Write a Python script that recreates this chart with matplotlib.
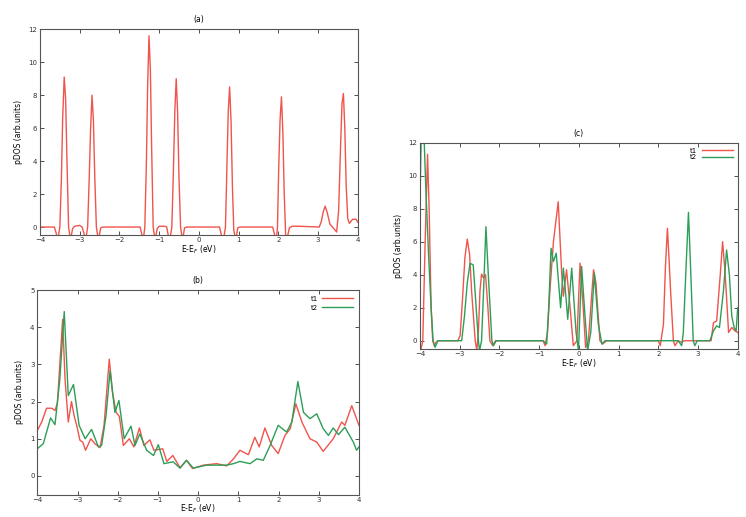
import matplotlib
matplotlib.use("Agg")
import matplotlib.pyplot as plt

# panel (a): single pDOS curve
e_a = [-4.0, -3.64, -3.60, -3.55, -3.50, -3.46, -3.43, -3.39, -3.355, -3.32, -3.28, -3.23, -3.18,
       -3.13, -3.0, -2.94, -2.89, -2.85, -2.80, -2.76, -2.725, -2.69, -2.655, -2.62, -2.58, -2.53,
       -2.47, -2.42, -1.48, -1.44, -1.40, -1.36, -1.32, -1.29, -1.255, -1.22, -1.19, -1.15, -1.10,
       -1.05, -1.0, -0.86, -0.81, -0.77, -0.73, -0.68, -0.64, -0.605, -0.57, -0.535, -0.50, -0.46,
       -0.41, -0.36, -0.30, 0.52, 0.57, 0.62, 0.67, 0.71, 0.74, 0.775, 0.81, 0.845, 0.88, 0.93,
       0.98, 1.03, 1.86, 1.91, 1.95, 1.98, 2.01, 2.045, 2.08, 2.115, 2.15, 2.19, 2.23, 2.28, 2.35,
       2.5, 3.03, 3.08, 3.13, 3.18, 3.23, 3.30, 3.40, 3.47, 3.52, 3.57, 3.605, 3.64, 3.675, 3.71,
       3.75, 3.79, 3.87, 3.96, 4.0]
dos_a = [0.0, 0.0, -0.3, -0.8, 0.0, 3.0, 6.5, 9.1, 7.8, 4.0, 0.0, -0.8, -0.1,
         0.05, 0.1, 0.0, -0.4, -0.8, 0.0, 3.0, 6.0, 8.0, 6.5, 3.0, 0.0, -0.8,
         -0.05, 0.0, 0.0, -0.4, -0.8, 0.0, 4.0, 8.5, 11.6, 9.5, 5.0, 0.0, -0.8,
         -0.1, 0.05, 0.05, 0.0, -0.5, -0.8, 0.0, 3.5, 7.0, 9.0, 7.0, 3.0, 0.0,
         -0.8, -0.05, 0.0, 0.0, -0.5, -0.8, 0.0, 4.0, 7.0, 8.5, 6.5, 2.5, -0.2, -0.8,
         -0.05, 0.0, 0.0, -0.5, -0.8, 0.0, 3.5, 6.5, 7.9, 5.8, 2.0, -0.8, -0.6, -0.05, 0.05,
         0.05, 0.0, 0.3, 0.9, 1.27, 0.9, 0.18, -0.1, -0.3, 1.0, 5.0, 7.5, 8.1, 6.0, 2.5,
         0.5, 0.22, 0.47, 0.47, 0.3]

# panel (b): t1 / t2
e_b1 = [-4.0, -3.89, -3.77, -3.64, -3.56, -3.50, -3.44, -3.37, -3.31, -3.23, -3.15, -3.08, -3.02,
        -2.94, -2.87, -2.80, -2.67, -2.57, -2.44, -2.34, -2.21, -2.13, -2.04, -1.96, -1.86, -1.71,
        -1.60, -1.46, -1.35, -1.20, -1.10, -0.88, -0.78, -0.63, -0.45, -0.29, -0.14, 0.13, 0.46,
        0.71, 0.88, 1.04, 1.25, 1.41, 1.52, 1.66, 1.83, 1.99, 2.16, 2.29, 2.43, 2.58, 2.78, 2.95,
        3.11, 3.36, 3.57, 3.65, 3.82, 4.0]
t1_b = [1.22, 1.45, 1.82, 1.82, 1.76, 1.96, 3.0, 4.21, 2.6, 1.45, 2.0, 1.6, 1.36,
        0.96, 0.91, 0.69, 1.0, 0.87, 0.76, 1.36, 3.14, 2.25, 1.71, 1.6, 0.82, 1.0,
        0.78, 1.29, 0.82, 0.97, 0.69, 0.73, 0.39, 0.55, 0.22, 0.42, 0.2, 0.29, 0.33,
        0.27, 0.46, 0.69, 0.57, 1.04, 0.78, 1.29, 0.82, 0.6, 1.09, 1.27, 1.94, 1.45, 1.0, 0.91,
        0.66, 1.0, 1.45, 1.36, 1.89, 1.36]
e_b2 = [-4.0, -3.85, -3.67, -3.56, -3.44, -3.33, -3.23, -3.10, -2.96, -2.81, -2.65, -2.48, -2.40,
        -2.29, -2.19, -2.07, -1.97, -1.84, -1.67, -1.57, -1.45, -1.28, -1.11, -0.99, -0.85, -0.62,
        -0.45, -0.29, -0.12, 0.21, 0.71, 0.88, 1.04, 1.29, 1.46, 1.62, 1.79, 1.99, 2.20, 2.33,
        2.48, 2.62, 2.78, 2.95, 3.11, 3.24, 3.36, 3.49, 3.65, 3.86, 3.94, 4.0]
t2_b = [0.73, 0.87, 1.56, 1.38, 2.6, 4.42, 2.16, 2.46, 1.36, 1.0, 1.25, 0.78, 0.82,
        1.63, 2.83, 1.71, 2.03, 1.0, 1.34, 0.82, 1.13, 0.69, 0.55, 0.84, 0.33, 0.38,
        0.21, 0.42, 0.21, 0.29, 0.29, 0.33, 0.39, 0.33, 0.46, 0.42, 0.82, 1.36, 1.18, 1.45,
        2.54, 1.71, 1.54, 1.67, 1.27, 1.09, 1.29, 1.11, 1.31, 0.91, 0.69, 0.78]

# panel (c): t1 / t2
e_c1 = [-4.0, -3.93, -3.87, -3.81, -3.77, -3.72, -3.68, -3.64, -3.60, -3.55, -3.05, -2.99, -2.93,
        -2.87, -2.81, -2.75, -2.70, -2.61, -2.57, -2.53, -2.49, -2.45, -2.40, -2.35, -2.29, -2.24,
        -2.17, -2.10, -0.90, -0.85, -0.79, -0.73, -0.64, -0.52, -0.43, -0.39, -0.31, -0.22, -0.14,
        -0.05, 0.03, 0.11, 0.17, 0.24, 0.37, 0.43, 0.53, 0.60, 0.70, 2.0, 2.05, 2.13, 2.18, 2.23,
        2.27, 2.31, 2.38, 2.42, 2.50, 2.59, 2.65, 3.33, 3.39, 3.47, 3.56, 3.62, 3.67, 3.71, 3.77,
        3.85, 3.93, 4.0]
t1_c = [-0.8, 0.0, 6.0, 11.3, 8.0, 2.0, 0.0, -0.3, -0.1, 0.0, 0.0, 0.3, 2.5,
        5.0, 6.16, 5.2, 3.0, 0.0, -0.6, 0.5, 3.0, 4.04, 3.8, 4.0, 2.0, 0.0,
        -0.3, 0.0, 0.0, -0.3, 0.5, 3.0, 6.0, 8.42, 4.0, 2.7, 4.3, 2.0, -0.3,
        0.0, 4.7, 2.0, -0.4, 0.0, 4.3, 3.5, 0.0, -0.2, 0.0, 0.0, -0.3, 1.0, 4.5, 6.81,
        5.0, 3.0, 0.0, -0.3, 0.0, -0.1, 0.0, 0.0, 1.1, 1.2, 4.0, 6.0, 4.5, 3.0, 0.5,
        0.8, 0.6, 0.5]
e_c2 = [-4.0, -3.97, -3.90, -3.85, -3.78, -3.72, -3.67, -3.62, -3.55, -3.0, -2.95, -2.88, -2.81,
        -2.74, -2.66, -2.60, -2.53, -2.50, -2.45, -2.40, -2.34, -2.28, -2.19, -2.15, -2.08, -0.90,
        -0.81, -0.76, -0.70, -0.64, -0.57, -0.51, -0.46, -0.39, -0.32, -0.28, -0.18, -0.07, -0.01,
        0.07, 0.14, 0.22, 0.30, 0.39, 0.49, 0.58, 0.66, 2.50, 2.59, 2.63, 2.70, 2.76, 2.82, 2.88,
        2.92, 2.98, 3.30, 3.39, 3.47, 3.54, 3.64, 3.72, 3.79, 3.85, 3.91, 3.96, 4.0]
t2_c = [8.5, 12.5, 12.5, 9.0, 5.0, 2.0, 0.0, -0.4, 0.0, 0.0, 0.0, 1.5, 3.5,
        4.69, 4.6, 2.5, 0.0, -0.6, 0.0, 3.0, 6.91, 4.0, 0.0, -0.3, 0.0, 0.0,
        -0.2, 2.0, 5.6, 4.8, 5.3, 3.5, 2.0, 4.4, 2.5, 1.3, 4.4, 0.5, -0.6,
        4.5, 2.0, -0.6, 0.5, 4.1, 1.0, -0.2, 0.0, 0.0, -0.3, 0.5, 4.5, 7.78, 4.0, 0.0,
        -0.3, 0.0, 0.0, 0.6, 0.9, 0.8, 3.0, 5.5, 4.0, 1.5, 0.8, 0.6, 2.0]

RED = "#f0544c"
GREEN = "#2c9e58"
FS = 5
LW = 1.0


def style(ax, title, ylim, yticks):
    ax.set_xlim(-4, 4)
    ax.set_ylim(*ylim)
    ax.set_xticks(range(-4, 5))
    ax.set_yticks(yticks)
    ax.tick_params(direction="in", top=True, right=True, labelsize=FS,
                   length=3, width=0.6, pad=2, colors="#333333")
    ax.tick_params(axis="x", pad=1.5)
    for s in ax.spines.values():
        s.set_color("#555555")
        s.set_linewidth(0.8)
    ax.set_title(title, fontsize=FS + 0.5, pad=5)
    ax.set_xlabel("E-E$_F$ (eV)", fontsize=FS + 0.5, labelpad=0)
    ax.set_ylabel("pDOS (arb.units)", fontsize=FS + 0.5, labelpad=4)


fig = plt.figure(figsize=(7.46, 5.17), dpi=100)

ax_a = fig.add_axes([0.0536, 0.5449, 0.4259, 0.3985])
ax_a.plot(e_a, dos_a, color=RED, lw=LW)
style(ax_a, "(a)", (-0.5, 12), range(0, 13, 2))

ax_b = fig.add_axes([0.05, 0.0435, 0.4312, 0.3955])
ax_b.plot(e_b1, t1_b, color=RED, lw=LW, label="t1")
ax_b.plot(e_b2, t2_b, color=GREEN, lw=LW, label="t2")
style(ax_b, "(b)", (-0.5, 5), range(0, 6))
ax_b.legend(loc="upper right", frameon=False, markerfirst=False, fontsize=FS,
            handlelength=4.5, labelspacing=0.45, borderaxespad=0.4, handletextpad=0.6)

ax_c = fig.add_axes([0.563, 0.325, 0.4259, 0.399])
ax_c.plot(e_c1, t1_c, color=RED, lw=LW, label="t1")
ax_c.plot(e_c2, t2_c, color=GREEN, lw=LW, label="t2")
style(ax_c, "(c)", (-0.5, 12), range(0, 13, 2))
ax_c.legend(loc="upper right", frameon=False, markerfirst=False, fontsize=FS,
            handlelength=4.5, labelspacing=0.1, borderaxespad=0.3, handletextpad=0.6)

fig.savefig("out.png", dpi=100)
